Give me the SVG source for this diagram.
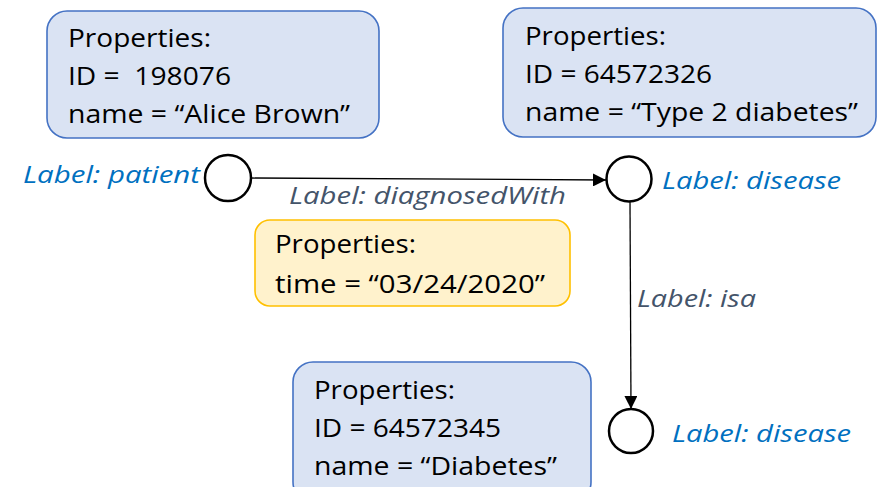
<svg xmlns="http://www.w3.org/2000/svg" width="877" height="487" viewBox="0 0 877 487">
<style>
.box{fill:#DAE3F3;stroke:#4472C4;stroke-width:1.6}
.ybox{fill:#FFF2CC;stroke:#FFC000;stroke-width:1.6}
.t{font-family:"Open Sans","Noto Sans","Liberation Sans",sans-serif;font-size:26px;fill:#000}
.lb{font-family:"Open Sans","Noto Sans","Liberation Sans",sans-serif;font-size:24px;font-style:italic;fill:#0070C0}
.le{font-family:"Open Sans","Noto Sans","Liberation Sans",sans-serif;font-size:24px;font-style:italic;fill:#44546A}
.node{fill:#fff;stroke:#000;stroke-width:2.5}
.edge{stroke:#000;stroke-width:1.3;fill:none;marker-end:url(#ah)}
</style>
<defs>
<marker id="ah" viewBox="0 0 10 10" refX="10" refY="5" markerWidth="13" markerHeight="13" markerUnits="userSpaceOnUse" orient="auto">
<path d="M0,0 L10,5 L0,10 z" fill="#000"/>
</marker>
</defs>
<g id="props-patient">
<rect class="box" x="47" y="11" width="332" height="127" rx="20"/>
<text class="t" x="68" y="47" textLength="143" lengthAdjust="spacingAndGlyphs">Properties:</text>
<text class="t" x="68" y="85" textLength="163" lengthAdjust="spacingAndGlyphs" xml:space="preserve">ID =  198076</text>
<text class="t" x="68" y="123" textLength="282" lengthAdjust="spacingAndGlyphs">name = “Alice Brown”</text>
</g>
<g id="props-type2">
<rect class="box" x="503" y="8" width="373" height="129" rx="20"/>
<text class="t" x="525" y="45" textLength="141" lengthAdjust="spacingAndGlyphs">Properties:</text>
<text class="t" x="525" y="83" textLength="187" lengthAdjust="spacingAndGlyphs">ID = 64572326</text>
<text class="t" x="525" y="121" textLength="333" lengthAdjust="spacingAndGlyphs">name = “Type 2 diabetes”</text>
</g>
<g id="props-edge">
<rect class="ybox" x="255" y="220" width="315" height="86" rx="15"/>
<text class="t" x="275" y="253" textLength="141" lengthAdjust="spacingAndGlyphs">Properties:</text>
<text class="t" x="275" y="293" textLength="270" lengthAdjust="spacingAndGlyphs">time = “03/24/2020”</text>
</g>
<g id="props-diabetes">
<rect class="box" x="293" y="362" width="298" height="140" rx="20"/>
<text class="t" x="314" y="399" textLength="141" lengthAdjust="spacingAndGlyphs">Properties:</text>
<text class="t" x="314" y="437" textLength="187" lengthAdjust="spacingAndGlyphs">ID = 64572345</text>
<text class="t" x="314" y="475" textLength="243" lengthAdjust="spacingAndGlyphs">name = “Diabetes”</text>
</g>
<g id="connectors">
<line class="edge" x1="251" y1="178" x2="606" y2="180"/>
<line class="edge" x1="630" y1="202" x2="631" y2="409"/>
<text class="le" x="289" y="204" textLength="277" lengthAdjust="spacingAndGlyphs">Label: diagnosedWith</text>
<text class="le" x="637" y="307" textLength="119" lengthAdjust="spacingAndGlyphs">Label: isa</text>
</g>
<g id="node-patient">
<circle class="node" cx="228" cy="178" r="23"/>
<text class="lb" x="23" y="183" textLength="177" lengthAdjust="spacingAndGlyphs">Label: patient</text>
</g>
<g id="node-type2">
<circle class="node" cx="629" cy="179" r="22.5"/>
<text class="lb" x="662" y="189" textLength="179" lengthAdjust="spacingAndGlyphs">Label: disease</text>
</g>
<g id="node-diabetes">
<circle class="node" cx="631" cy="431" r="22"/>
<text class="lb" x="672" y="442" textLength="179" lengthAdjust="spacingAndGlyphs">Label: disease</text>
</g>
</svg>
